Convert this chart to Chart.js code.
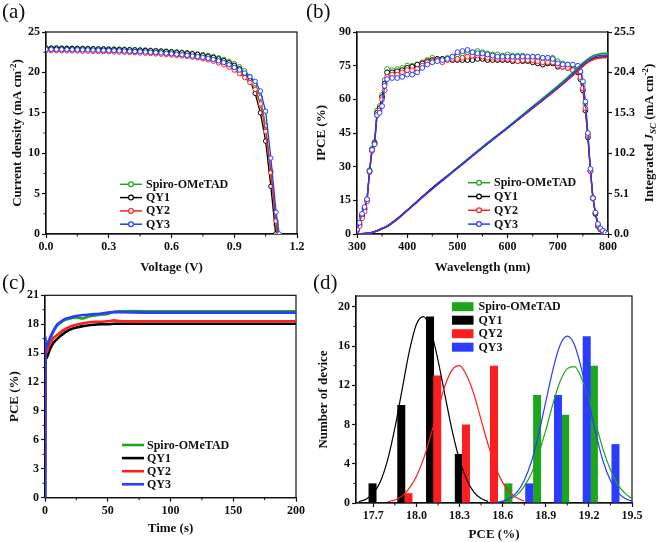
<!DOCTYPE html>
<html>
<head>
<meta charset="utf-8">
<script src="https://cdn.jsdelivr.net/npm/chart.js@4.4.1/dist/chart.umd.min.js"></script>
<style>
  body { margin: 0; background: #fff; width: 660px; height: 542px; position: relative; overflow: hidden; }
  canvas { position: absolute; }
  .tag { position: absolute; font: 21px "Liberation Serif", "Times New Roman", serif; line-height: 21px; color: #111; }
</style>
</head>
<body>
<canvas id="chartA" width="330" height="275" style="left:0;top:0"></canvas>
<canvas id="chartB" width="355" height="275" style="left:305px;top:0"></canvas>
<canvas id="chartC" width="330" height="274" style="left:0;top:268px"></canvas>
<canvas id="chartD" width="355" height="274" style="left:305px;top:268px"></canvas>
<div class="tag" style="left:2px;top:1px">(a)</div>
<div class="tag" style="left:306px;top:1px">(b)</div>
<div class="tag" style="left:2px;top:272px">(c)</div>
<div class="tag" style="left:313px;top:272px">(d)</div>
<script>
// ---- shared series info ----
const seriesNames = ['Spiro-OMeTAD', 'QY1', 'QY2', 'QY3'];

// ---- (a) J-V curves ----
const voltage = [0, 0.025, 0.05, 0.075, 0.1, 0.125, 0.15, 0.175, 0.2, 0.225,
  0.25, 0.275, 0.3, 0.325, 0.35, 0.375, 0.4, 0.425, 0.45, 0.475,
  0.5, 0.525, 0.55, 0.575, 0.6, 0.625, 0.65, 0.675, 0.7, 0.725,
  0.75, 0.775, 0.8, 0.825, 0.85, 0.875, 0.9, 0.925, 0.95, 0.975,
  1.0, 1.025, 1.05, 1.075, 1.1];
const jvSpiro = [23.05, 23.05, 23.04, 23.03, 23.02, 23.01, 23.00, 22.99, 22.98, 22.97,
  22.95, 22.94, 22.92, 22.90, 22.89, 22.87, 22.85, 22.83, 22.80, 22.78,
  22.75, 22.72, 22.68, 22.64, 22.60, 22.55, 22.50, 22.45, 22.38, 22.30,
  22.20, 22.10, 21.98, 21.82, 21.62, 21.38, 21.10, 20.70, 20.20, 19.50,
  18.60, 16.90, 13.40, 7.80, 1.20];
const jvQY1 = [23.00, 23.00, 22.99, 22.98, 22.97, 22.96, 22.95, 22.94, 22.93, 22.92,
  22.90, 22.89, 22.87, 22.85, 22.84, 22.82, 22.80, 22.78, 22.75, 22.72,
  22.69, 22.66, 22.62, 22.58, 22.53, 22.48, 22.43, 22.37, 22.30, 22.22,
  22.12, 22.00, 21.86, 21.68, 21.46, 21.20, 20.88, 20.45, 19.85, 19.00,
  17.40, 15.00, 11.50, 5.90, null];
const jvQY2 = [22.70, 22.70, 22.69, 22.68, 22.67, 22.66, 22.65, 22.63, 22.62, 22.60,
  22.58, 22.57, 22.55, 22.53, 22.51, 22.49, 22.46, 22.43, 22.40, 22.37,
  22.33, 22.29, 22.25, 22.20, 22.15, 22.09, 22.03, 21.96, 21.88, 21.79,
  21.68, 21.55, 21.38, 21.18, 20.95, 20.65, 20.28, 19.85, 19.35, 18.75,
  17.90, 16.10, 12.70, 7.60, 1.60];
const jvQY3 = [22.85, 22.85, 22.84, 22.83, 22.82, 22.81, 22.80, 22.79, 22.78, 22.76,
  22.75, 22.73, 22.71, 22.69, 22.67, 22.65, 22.62, 22.59, 22.56, 22.53,
  22.49, 22.45, 22.41, 22.36, 22.30, 22.24, 22.18, 22.11, 22.03, 21.95,
  21.85, 21.74, 21.60, 21.43, 21.22, 20.95, 20.62, 20.30, 19.92, 19.45,
  18.90, 17.70, 15.20, 9.40, 2.70];
const vocValues = [1.104, 1.098, 1.109, 1.115];
const aXTicks = [0, 0.3, 0.6, 0.9, 1.2];
const aYTicks = [0, 5, 10, 15, 20, 25];

// ---- (b) IPCE + integrated Jsc ----
const wavelength = [300, 305, 310, 315, 320, 325, 330, 335, 340, 345, 350, 355,
  360, 370, 380, 390, 400, 410, 420, 430, 440, 450, 460, 470, 480, 490, 500, 510, 520, 530,
  540, 550, 560, 570, 580, 590, 600, 610, 620, 630, 640, 650, 660, 670, 680, 690, 700, 710,
  720, 730, 740, 745, 750, 755, 760, 765, 770, 775, 780, 785, 790, 795, 800];
const ipceSpiro = [2, 4.5, 8.5, 11.5, 15.5, 28.5, 38, 41, 55, 57, 62, 68.5,
  73.5, 73, 73.5, 74, 75, 75, 75.5, 76.5, 77.5, 78.5, 78, 78, 78.5, 79, 80, 80.5, 81, 81,
  81.5, 81, 80.5, 80, 80, 79.5, 80, 79.5, 79.5, 79.5, 79, 79, 78.5, 78.5, 78.5, 78.5, 77, 76,
  75.5, 75, 74, 72, 67, 58, 44, 28, 16, 9, 4, 2, 1, 0.5, 0];
const ipceQY1 = [1.8, 4, 8, 11, 15, 28, 37.5, 40.5, 54, 56, 61, 67,
  72, 72, 72.5, 73, 74, 74.5, 75.5, 76, 77, 77.5, 78, 78, 78, 77.5, 77.5, 77.5, 77.5, 77.5,
  78, 78, 77.5, 77.5, 77.5, 77.5, 77.5, 77, 77, 77, 77, 76.5, 76, 75.5, 76, 76, 74.5, 74.5,
  74, 73, 72, 69, 64, 55, 43, 28, 16, 9, 3.5, 2, 1, 0.5, 0];
const ipceQY2 = [1.5, 3.5, 7, 10, 14.5, 27.5, 37, 40, 53, 55, 60, 64,
  70, 71, 71, 72, 73, 73, 73.5, 75, 76.5, 77, 77.5, 76.5, 77.5, 78, 78, 78.5, 79, 79.5,
  79.5, 79, 78.5, 78.5, 78, 78, 78, 77.5, 77, 77.5, 77.5, 77.5, 77, 76.5, 76.5, 76.5, 75, 74.5,
  74, 73, 72.5, 70, 65, 56, 44, 28, 16, 9.5, 4, 2, 1, 0.5, 0];
const ipceQY3 = [2, 5, 9, 12, 15.5, 28, 37.5, 40, 53, 54, 57, 66,
  69, 69.5, 69.5, 70, 71, 71, 72, 74, 75.5, 76.5, 77, 77.5, 78, 79, 81, 81.5, 82, 81,
  80.5, 80.5, 80, 79.5, 79, 79, 79, 79, 79, 79, 79, 79, 79, 78.5, 78.5, 78, 76, 75.5,
  75.5, 75.5, 75, 72.5, 68, 59, 45, 29, 16, 9.5, 4.5, 2.5, 1.5, 0.7, 0.2];
const jscWavelength = [300, 310, 320, 330, 340, 350, 360, 380, 400, 425, 450, 500,
  550, 600, 650, 700, 720, 740, 750, 760, 770, 780, 790, 800];
const jscSpiro = [0, 0.02, 0.08, 0.2, 0.4, 0.7, 1.0, 1.9, 3.0, 4.4, 5.8, 8.4,
  11.0, 13.5, 16.1, 18.7, 19.8, 21.0, 21.6, 22.1, 22.5, 22.7, 22.8, 22.8];
const jscQY1 = [0, 0.02, 0.08, 0.2, 0.4, 0.7, 1.0, 1.9, 3.0, 4.4, 5.8, 8.3,
  10.9, 13.4, 15.9, 18.4, 19.5, 20.6, 21.2, 21.7, 22.1, 22.3, 22.35, 22.35];
const jscQY2 = [0, 0.02, 0.08, 0.2, 0.4, 0.68, 0.98, 1.85, 2.95, 4.35, 5.7, 8.3,
  10.9, 13.4, 15.9, 18.4, 19.5, 20.6, 21.2, 21.7, 22.0, 22.2, 22.25, 22.25];
const jscQY3 = [0, 0.02, 0.08, 0.2, 0.38, 0.66, 0.95, 1.85, 2.95, 4.35, 5.7, 8.3,
  10.9, 13.4, 16.0, 18.5, 19.6, 20.8, 21.4, 21.9, 22.3, 22.5, 22.55, 22.55];
const bXTicks = [300, 400, 500, 600, 700, 800];
const bYTicks = [0, 15, 30, 45, 60, 75, 90];
const bY2Ticks = [0, 5.1, 10.2, 15.3, 20.4, 25.5];

// ---- (c) stabilized PCE ----
const timeS = [0, 0.3, 0.6, 1, 2, 3, 5, 7, 10, 13, 16, 20, 25, 30, 35, 40, 45, 50, 55, 60,
  80, 100, 120, 140, 160, 180, 200];
const pceSpiro = [0, 16.2, 15.4, 15.3, 15.7, 16.1, 16.7, 17.3, 17.9, 18.2, 18.45, 18.6, 18.7, 18.6,
  18.8, 18.9, 19.0, 19.05, 19.3, 19.35, 19.35, 19.35, 19.35, 19.35, 19.35, 19.35, 19.35];
const pceQY1 = [0, 14.8, 14.5, 14.45, 14.7, 15.1, 15.7, 16.1, 16.5, 16.85, 17.15, 17.45, 17.65, 17.8,
  17.9, 17.95, 18.0, 18.0, 18.05, 18.05, 18.05, 18.05, 18.05, 18.05, 18.05, 18.05, 18.05];
const pceQY2 = [0, 15.3, 14.9, 15.0, 15.3, 15.7, 16.2, 16.6, 16.9, 17.25, 17.5, 17.75, 17.95, 18.1,
  18.2, 18.25, 18.25, 18.3, 18.4, 18.3, 18.3, 18.3, 18.3, 18.3, 18.3, 18.3, 18.3];
const pceQY3 = [0, 16.6, 15.7, 15.6, 15.9, 16.3, 16.9, 17.4, 18.0, 18.3, 18.55, 18.7, 18.85, 18.95,
  19.0, 19.05, 19.1, 19.2, 19.25, 19.25, 19.2, 19.2, 19.2, 19.2, 19.2, 19.2, 19.2];
const cXTicks = [0, 50, 100, 150, 200];
const cYTicks = [0, 3, 6, 9, 12, 15, 18, 21];

// ---- (d) PCE histogram + fits ----
const binSpiro = [18.64, 18.84, 19.035, 19.235];
const countSpiro = [2, 11, 9, 14];
const binQY1 = [17.695, 17.895, 18.095, 18.295];
const countQY1 = [2, 10, 19, 5];
const binQY2 = [17.945, 18.145, 18.345, 18.54];
const countQY2 = [1, 13, 8, 14];
const binQY3 = [18.785, 18.985, 19.185, 19.385];
const countQY3 = [2, 11, 17, 6];
const fitXSpiro = [18.60, 18.65, 18.70, 18.75, 18.80, 18.85, 18.90, 18.95, 19.00, 19.05,
  19.10, 19.15, 19.20, 19.25, 19.30, 19.35, 19.40, 19.45, 19.50];
const fitSpiro = [0.15, 0.38, 0.83, 1.7, 3.0, 5.0, 7.4, 10.1, 12.4, 13.7,
  13.9, 12.7, 10.6, 8.0, 5.4, 3.4, 1.9, 1.0, 0.45];
const fitXQY1 = [17.60, 17.65, 17.70, 17.75, 17.80, 17.85, 17.90, 17.95, 18.00, 18.05,
  18.10, 18.15, 18.20, 18.25, 18.30, 18.35, 18.40, 18.45, 18.50];
const fitQY1 = [0.14, 0.39, 1.0, 2.2, 4.4, 7.6, 11.5, 15.4, 18.2, 19.0,
  17.6, 14.6, 10.9, 7.3, 4.4, 2.4, 1.1, 0.45, 0.15];
const fitXQY2 = [17.80, 17.85, 17.90, 17.95, 18.00, 18.05, 18.10, 18.15, 18.20, 18.25,
  18.30, 18.35, 18.40, 18.45, 18.50, 18.55, 18.60, 18.65, 18.70, 18.75];
const fitQY2 = [0.13, 0.3, 0.7, 1.5, 2.7, 4.5, 6.9, 9.5, 12.0, 13.6,
  14.0, 13.0, 11.1, 8.5, 5.9, 3.7, 2.1, 1.1, 0.5, 0.2];
const fitXQY3 = [18.55, 18.60, 18.65, 18.70, 18.75, 18.80, 18.85, 18.90, 18.95, 19.00,
  19.05, 19.10, 19.15, 19.20, 19.25, 19.30, 19.35, 19.40, 19.45, 19.50];
const fitQY3 = [0.07, 0.19, 0.48, 1.1, 2.3, 4.2, 7.0, 10.3, 13.6, 16.1,
  17.0, 16.1, 13.6, 10.3, 7.0, 4.2, 2.3, 1.1, 0.48, 0.19];
const dXTicks = [17.7, 18.0, 18.3, 18.6, 18.9, 19.2, 19.5];
const dYTicks = [0, 4, 8, 12, 16, 20];

// ---- styling ----
const FONT = '"Liberation Serif", "Times New Roman", serif';
const INK = '#111';
const COLORS = ['#1ea51e', '#000000', '#ff1e1e', '#2a3cff'];
Chart.defaults.font.family = FONT;
Chart.defaults.font.size = 12;
Chart.defaults.font.weight = 'bold';
Chart.defaults.color = INK;

const pairs = (xs, ys) => xs.map((x, i) => ({ x: x, y: ys[i] })).filter(p => p.y !== null);

function axis(o) {
  return {
    type: 'linear',
    position: o.position,
    min: o.min,
    max: o.max,
    offset: false,
    afterBuildTicks: s => { s.ticks = o.ticks.map(v => ({ value: v })); },
    afterFit: s => {
      if (o.width !== undefined) s.width = o.width;
      if (o.height !== undefined) s.height = o.height;
    },
    grid: { display: true, drawOnChartArea: false, drawTicks: true, tickLength: 4,
            color: INK, tickColor: INK, offset: false, tickWidth: 1.2 },
    border: { display: true, color: INK, width: 1.2 },
    ticks: { padding: 2, autoSkip: false, maxRotation: 0, color: INK,
             font: { size: 12, weight: 'bold', family: FONT },
             callback: o.fmt || (v => String(v)) },
    title: o.title
      ? { display: true, text: o.title, color: INK, font: { size: 13, weight: 'bold', family: FONT },
          padding: { top: o.titlePad || 0, bottom: o.titlePad || 0 } }
      : { display: false }
  };
}

// box around the plot area
const framePlugin = {
  id: 'frame',
  beforeDatasetsDraw(chart) {
    const { ctx, chartArea: a } = chart;
    ctx.save();
    ctx.strokeStyle = INK;
    ctx.lineWidth = 1.2;
    ctx.strokeRect(a.left, a.top, a.right - a.left, a.bottom - a.top);
    ctx.restore();
  }
};

// short unlabeled ticks halfway between the labelled ones
function makeMinorTicks(list) {
  return {
    id: 'minorTicks',
    afterDraw(chart) {
      const ctx = chart.ctx;
      ctx.save();
      ctx.strokeStyle = INK;
      ctx.lineWidth = 1;
      list.forEach(m => {
        const s = chart.scales[m.id];
        for (let k = 0; k < m.ticks.length - 1; k++) {
          const v = (m.ticks[k] + m.ticks[k + 1]) / 2;
          const p = s.getPixelForValue(v);
          ctx.beginPath();
          if (s.position === 'bottom') { ctx.moveTo(p, s.top); ctx.lineTo(p, s.top + 2.5); }
          else if (s.position === 'left') { ctx.moveTo(s.right, p); ctx.lineTo(s.right - 2.5, p); }
          else { ctx.moveTo(s.left, p); ctx.lineTo(s.left + 2.5, p); }
          ctx.stroke();
        }
      });
      ctx.restore();
    }
  };
}

// legend drawn inside the plot (line+marker, line, or filled box)
function makeLegend(o) {
  return {
    id: 'innerLegend',
    afterDraw(chart) {
      const ctx = chart.ctx;
      ctx.save();
      ctx.font = 'bold 12px ' + FONT;
      ctx.textBaseline = 'middle';
      seriesNames.forEach((name, i) => {
        const y = o.y + i * o.row;
        const c = COLORS[i];
        if (o.kind === 'box') {
          ctx.fillStyle = c;
          ctx.fillRect(o.x, y - 4.5, o.w, 9);
        } else {
          ctx.strokeStyle = c;
          ctx.lineWidth = o.lw;
          ctx.beginPath();
          ctx.moveTo(o.x, y);
          ctx.lineTo(o.x + o.w, y);
          ctx.stroke();
          if (o.kind === 'marker') {
            ctx.beginPath();
            ctx.arc(o.x + o.w / 2, y, 2.4, 0, Math.PI * 2);
            ctx.fillStyle = '#fff';
            ctx.fill();
            ctx.lineWidth = 1.2;
            ctx.stroke();
          }
        }
        ctx.fillStyle = INK;
        ctx.fillText(name, o.textX, y + 0.5);
      });
      ctx.restore();
    }
  };
}

// rotated axis title with italic / sub / superscript pieces
function makeRichTitle(segs, cx, cy) {
  return {
    id: 'richTitle',
    afterDraw(chart) {
      const ctx = chart.ctx;
      const size = 13;
      const fontFor = s => (s.italic ? 'italic ' : '') + 'bold ' + (s.sup || s.sub ? 9 : size) + 'px ' + FONT;
      const widths = segs.map(s => { ctx.font = fontFor(s); return ctx.measureText(s.t).width; });
      const total = widths.reduce((a, b) => a + b, 0);
      ctx.save();
      ctx.translate(cx, cy);
      ctx.rotate(-Math.PI / 2);
      ctx.textBaseline = 'middle';
      ctx.fillStyle = INK;
      let x = -total / 2;
      segs.forEach((s, i) => {
        ctx.font = fontFor(s);
        ctx.fillText(s.t, x, s.sup ? -4.5 : (s.sub ? 3.5 : 0));
        x += widths[i];
      });
      ctx.restore();
    }
  };
}

const base = {
  responsive: false,
  animation: false,
  events: [],
  plugins: { legend: { display: false }, tooltip: { enabled: false } }
};

// ---------- (a) ----------
const jvSets = [jvSpiro, jvQY1, jvQY2, jvQY3];
new Chart(document.getElementById('chartA'), {
  type: 'line',
  data: {
    datasets: jvSets.map((arr, i) => ({
      label: seriesNames[i],
      data: pairs(voltage, arr).concat([{ x: vocValues[i], y: 0 }]),
      borderColor: COLORS[i],
      borderWidth: 1.3,
      pointRadius: 2.2,
      pointBorderWidth: 1,
      pointBackgroundColor: '#fff',
      pointBorderColor: COLORS[i],
      tension: 0,
      order: 4 - i
    }))
  },
  options: Object.assign({}, base, {
    layout: { padding: { left: 0, top: 32, right: 33, bottom: 0 } },
    scales: {
      x: axis({ position: 'bottom', min: 0, max: 1.2, ticks: aXTicks, height: 41,
                fmt: v => v.toFixed(1), title: 'Voltage (V)', titlePad: 0 }),
      y: axis({ position: 'left', min: 0, max: 25, ticks: aYTicks, width: 46 })
    }
  }),
  plugins: [framePlugin,
    makeMinorTicks([{ id: 'x', ticks: aXTicks }, { id: 'y', ticks: aYTicks }]),
    makeLegend({ kind: 'marker', x: 120, w: 22, lw: 1.5, textX: 146, y: 184.3, row: 13.3 }),
    makeRichTitle([{ t: 'Current density (mA cm' }, { t: '-2', sup: true }, { t: ')' }], 18, 133)]
});

// ---------- (b) ----------
const ipceSets = [ipceSpiro, ipceQY1, ipceQY2, ipceQY3];
const jscSets = [jscSpiro, jscQY1, jscQY2, jscQY3];
new Chart(document.getElementById('chartB'), {
  type: 'line',
  data: {
    datasets: ipceSets.map((arr, i) => ({
      label: seriesNames[i],
      data: pairs(wavelength, arr),
      yAxisID: 'y',
      borderColor: COLORS[i],
      borderWidth: 1.3,
      pointRadius: 2.4,
      pointBorderWidth: 1,
      pointBackgroundColor: '#fff',
      pointBorderColor: COLORS[i],
      tension: 0,
      order: 8 - i
    })).concat(jscSets.map((arr, i) => ({
      label: seriesNames[i] + ' Jsc',
      data: pairs(jscWavelength, arr),
      yAxisID: 'y2',
      borderColor: COLORS[i],
      borderWidth: 1.6,
      pointRadius: 0,
      cubicInterpolationMode: 'monotone',
      order: 4 - i
    })))
  },
  options: Object.assign({}, base, {
    layout: { padding: { left: 0, top: 32, right: 0, bottom: 0 } },
    scales: {
      x: axis({ position: 'bottom', min: 300, max: 800, ticks: bXTicks, height: 41,
                title: 'Wavelength (nm)', titlePad: 0 }),
      y: axis({ position: 'left', min: 0, max: 90, ticks: bYTicks, width: 52,
                title: 'IPCE (%)', titlePad: 9 }),
      y2: axis({ position: 'right', min: 0, max: 25.5, ticks: bY2Ticks, width: 52,
                 fmt: v => v.toFixed(1) })
    }
  }),
  plugins: [framePlugin,
    makeMinorTicks([{ id: 'x', ticks: bXTicks }]),
    makeLegend({ kind: 'marker', x: 163, w: 22, lw: 1.5, textX: 189, y: 182.7, row: 13.8 }),
    makeRichTitle([{ t: 'Integrated ' }, { t: 'J', italic: true }, { t: 'SC', italic: true, sub: true },
                   { t: ' (mA cm' }, { t: '-2', sup: true }, { t: ')' }], 345, 133)]
});

// ---------- (c) ----------
const pceSets = [pceSpiro, pceQY1, pceQY2, pceQY3];
new Chart(document.getElementById('chartC'), {
  type: 'line',
  data: {
    datasets: pceSets.map((arr, i) => ({
      label: seriesNames[i],
      data: pairs(timeS, arr),
      borderColor: COLORS[i],
      borderWidth: 2.6,
      pointRadius: 0,
      tension: 0.2,
      order: 4 - i
    }))
  },
  options: Object.assign({}, base, {
    layout: { padding: { left: 0, top: 27.3, right: 34, bottom: 0 } },
    scales: {
      x: axis({ position: 'bottom', min: 0, max: 200, ticks: cXTicks, height: 44.3,
                title: 'Time (s)', titlePad: 5.5 }),
      y: axis({ position: 'left', min: 0, max: 21, ticks: cYTicks, width: 45,
                title: 'PCE (%)', titlePad: 7 })
    }
  }),
  plugins: [framePlugin,
    makeMinorTicks([{ id: 'x', ticks: cXTicks }, { id: 'y', ticks: cYTicks }]),
    makeLegend({ kind: 'line', x: 122, w: 22, lw: 2.6, textX: 147, y: 177, row: 13.1 })]
});

// ---------- (d) ----------
const binSets = [binSpiro, binQY1, binQY2, binQY3];
const countSets = [countSpiro, countQY1, countQY2, countQY3];
const fitXSets = [fitXSpiro, fitXQY1, fitXQY2, fitXQY3];
const fitSets = [fitSpiro, fitQY1, fitQY2, fitQY3];
new Chart(document.getElementById('chartD'), {
  type: 'bar',
  data: {
    datasets: binSets.map((xs, i) => ({
      type: 'bar',
      label: seriesNames[i],
      data: pairs(xs, countSets[i]),
      backgroundColor: COLORS[i],
      grouped: false,
      barPercentage: 1.5,
      categoryPercentage: 1,
      maxBarThickness: 8,
      order: 10 - i
    })).concat(fitXSets.map((xs, i) => ({
      type: 'line',
      label: seriesNames[i] + ' fit',
      data: pairs(xs, fitSets[i]),
      borderColor: COLORS[i],
      borderWidth: 1.2,
      pointRadius: 0,
      cubicInterpolationMode: 'monotone',
      order: 4 - i
    })))
  },
  options: Object.assign({}, base, {
    layout: { padding: { left: 0, top: 28, right: 28, bottom: 0 } },
    scales: {
      x: axis({ position: 'bottom', min: 17.58, max: 19.5, ticks: dXTicks, height: 39,
                fmt: v => v.toFixed(1), title: 'PCE (%)', titlePad: 0 }),
      y: axis({ position: 'left', min: 0, max: 21.1, ticks: dYTicks, width: 51,
                title: 'Number of device', titlePad: 11 })
    }
  }),
  plugins: [framePlugin,
    makeMinorTicks([{ id: 'x', ticks: dXTicks }, { id: 'y', ticks: dYTicks }]),
    makeLegend({ kind: 'box', x: 147, w: 21.5, textX: 173.5, y: 38.7, row: 13.5 })]
});
</script>
</body>
</html>
